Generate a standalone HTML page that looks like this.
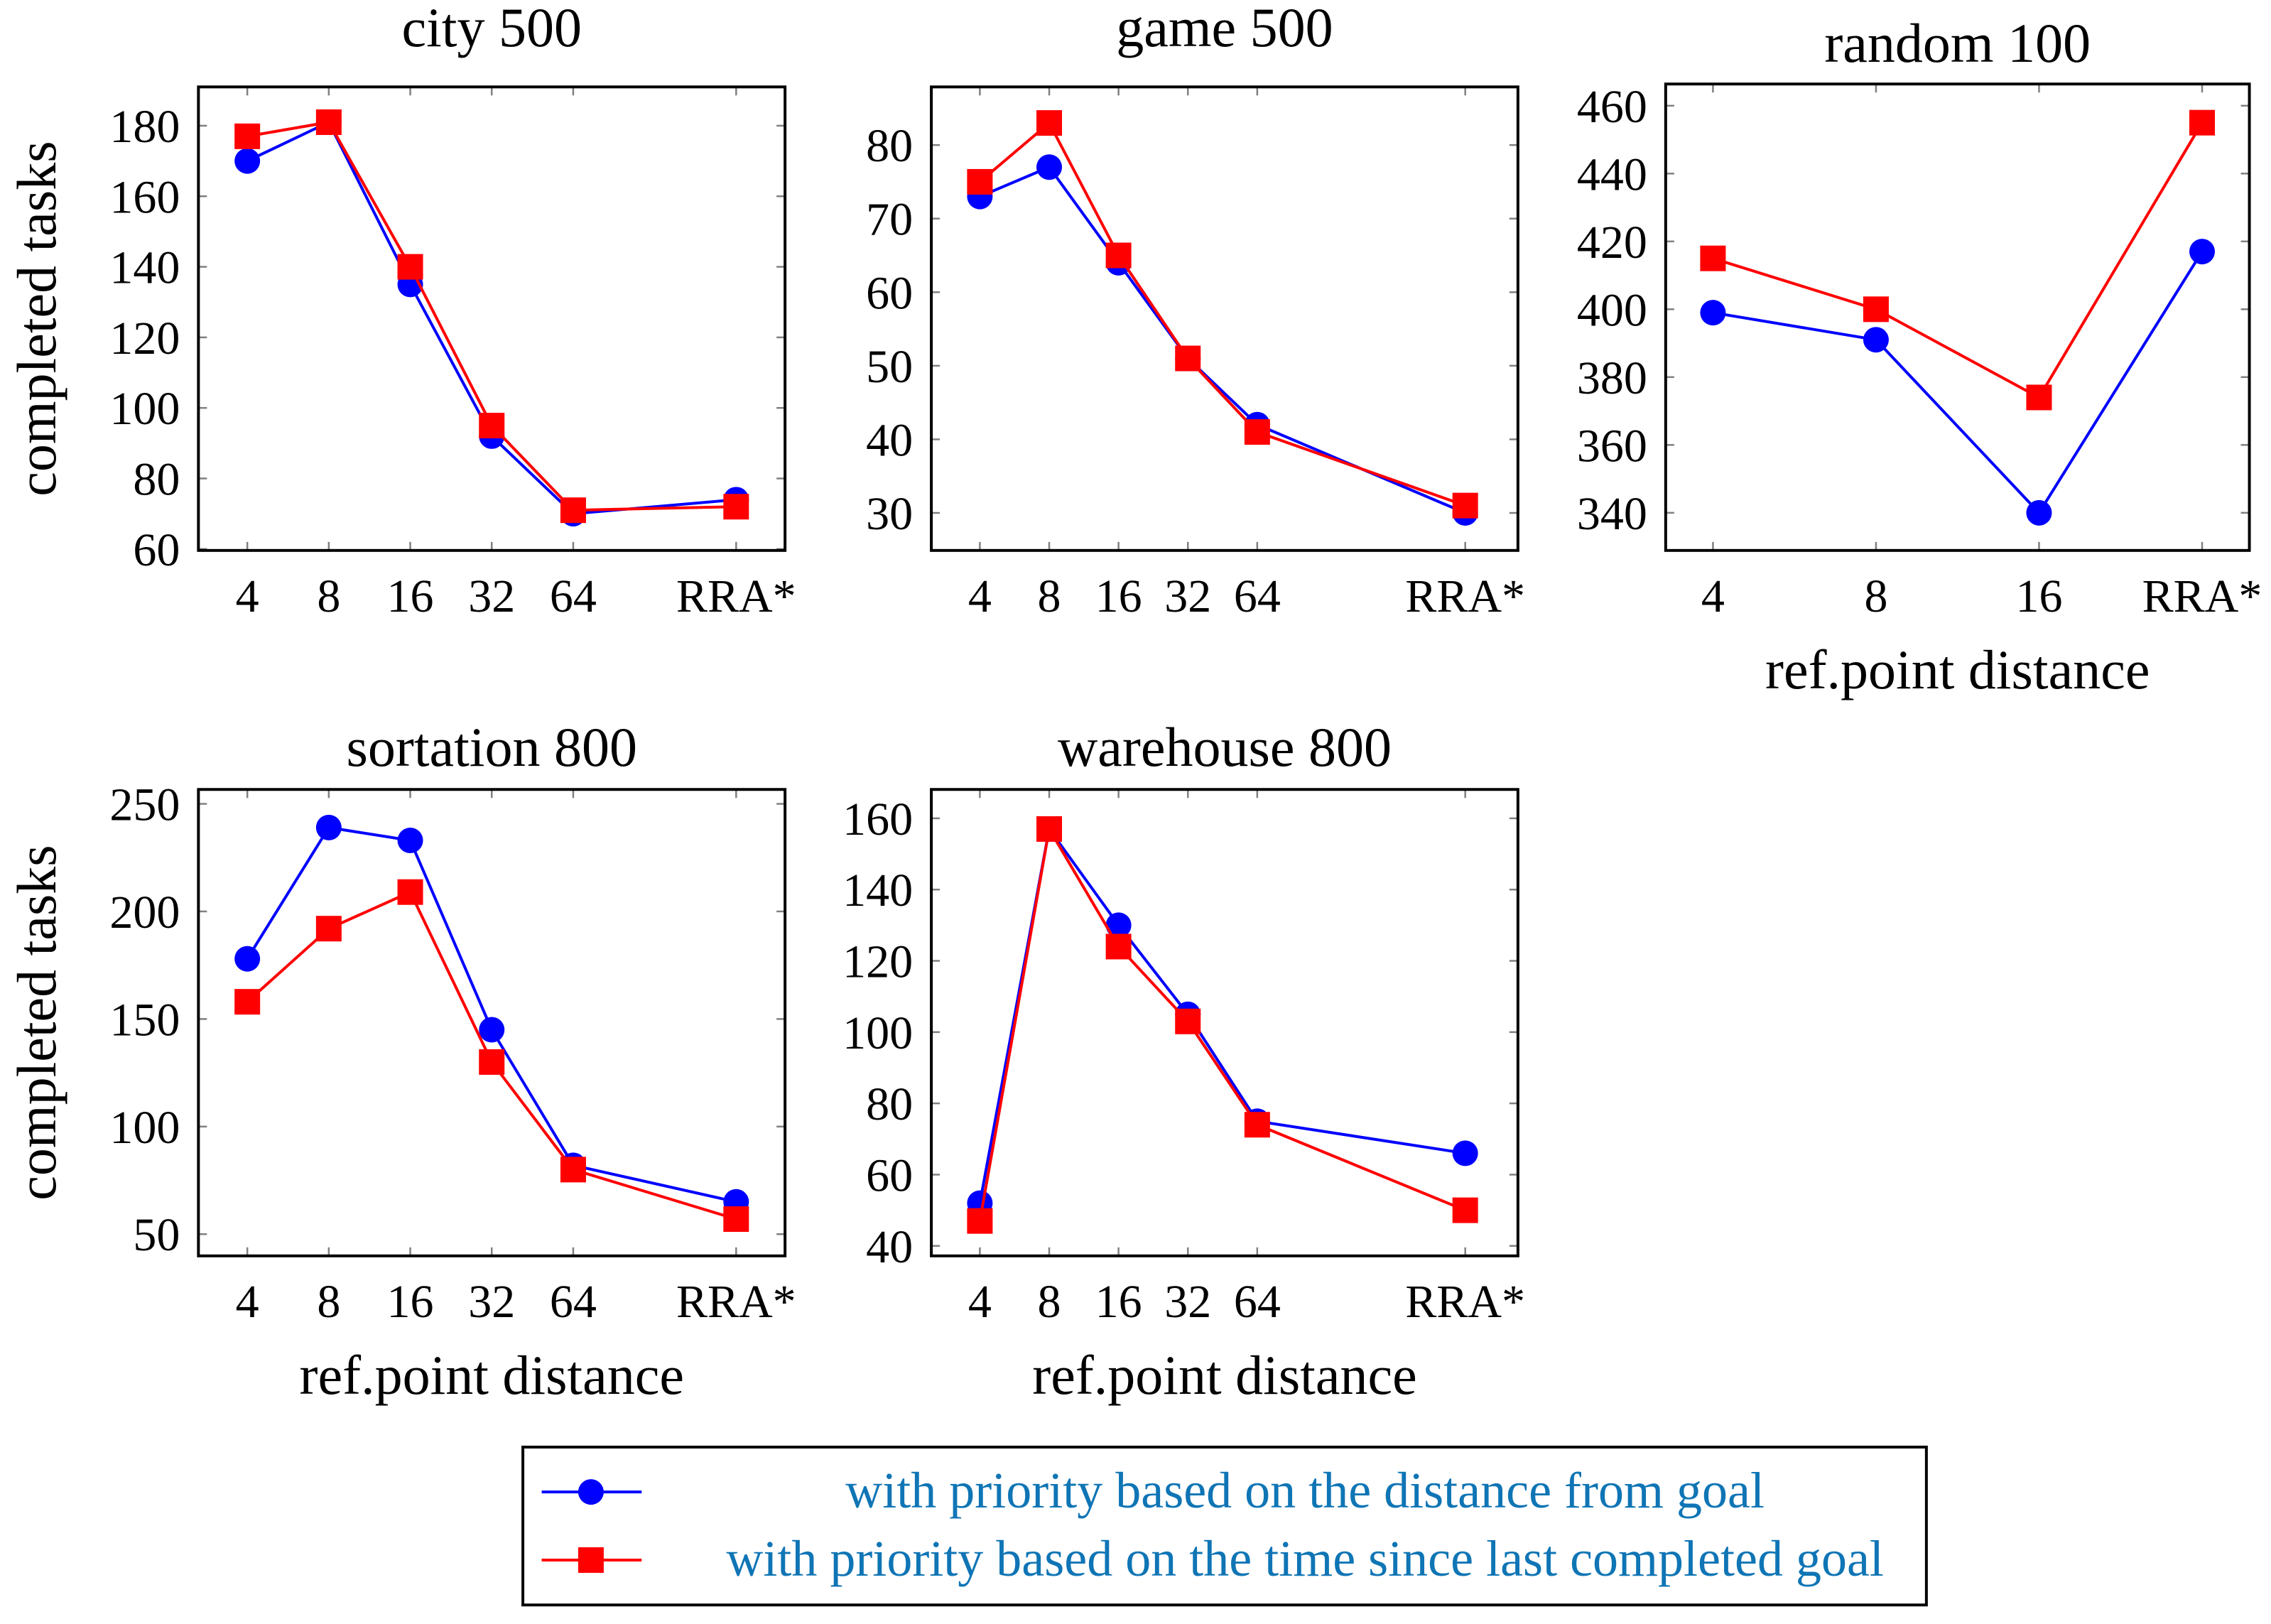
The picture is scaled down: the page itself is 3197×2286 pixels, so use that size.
<!DOCTYPE html>
<html><head><meta charset="utf-8"><style>
html,body{margin:0;padding:0;background:#fff}
svg{display:block}
text{font-family:"Liberation Serif",serif}
</style></head><body>
<svg id="fig" width="3197" height="2286" viewBox="0 0 3197 2286" xmlns="http://www.w3.org/2000/svg"></svg>
<script>
const S = 2.039;
// Chart data
const cityCats = ["4","8","16","32","64","RRA*"];
const cityIdx = [0,1,2,3,4,6];
const cityBlue = [170,181,135,92,70,74];
const cityRed = [177,181,140,95,71,72];
const cityTicks = [60,80,100,120,140,160,180];

const gameCats = ["4","8","16","32","64","RRA*"];
const gameIdx = [0,1,2,3,4,7];
const gameBlue = [73,77,64,51,42,30];
const gameRed = [75,83,65,51,41,31];
const gameTicks = [30,40,50,60,70,80];

const randCats = ["4","8","16","RRA*"];
const randIdx = [0,1,2,3];
const randBlue = [399,391,340,417];
const randRed = [415,400,374,455];
const randTicks = [340,360,380,400,420,440,460];

const sortCats = ["4","8","16","32","64","RRA*"];
const sortIdx = [0,1,2,3,4,6];
const sortBlue = [178,239,233,145,82,65];
const sortRed = [158,192,209,130,80,57];
const sortTicks = [50,100,150,200,250];

const wareCats = ["4","8","16","32","64","RRA*"];
const wareIdx = [0,1,2,3,4,7];
const wareBlue = [52,157,130,105,75,66];
const wareRed = [47,157,124,103,74,50];
const wareTicks = [40,60,80,100,120,140,160];

const svg = document.getElementById('fig');
const NS = "http://www.w3.org/2000/svg";
function mk(tag, attrs, parent){
  const e = document.createElementNS(NS, tag);
  for (const k in attrs) e.setAttribute(k, attrs[k]);
  (parent||svg).appendChild(e);
  return e;
}
const FS = 66;

function chart(cfg){
  const g = mk('g', {});
  
  
  const L = cfg.box[0]*S, R = cfg.box[1]*S, T = cfg.box[2]*S, B = cfg.box[3]*S;
  const xs = v => L + (v - cfg.xr[0])/(cfg.xr[1]-cfg.xr[0])*(R-L);
  const ys = v => B - (v - cfg.yr[0])/(cfg.yr[1]-cfg.yr[0])*(B-T);
  cfg.ticks.forEach(t=>{
    const y = ys(t);
    const tl = mk('line',{x1:L,x2:L+12,y1:y,y2:y,stroke:'#808080','stroke-width':2.5},g);
    
    
    mk('line',{x1:R-12,x2:R,y1:y,y2:y,stroke:'#808080','stroke-width':2.5},g);
    const lb = mk('text',{x:L-26,y:y+23,'text-anchor':'end','font-size':FS},g);
    lb.textContent = t;
    
    
  });
  cfg.idx.forEach((ix,i)=>{
    const x = xs(ix);
    mk('line',{x1:x,x2:x,y1:B-12,y2:B,stroke:'#808080','stroke-width':2.5},g);
    mk('line',{x1:x,x2:x,y1:T,y2:T+12,stroke:'#808080','stroke-width':2.5},g);
    const lb = mk('text',{x:x,y:B+86,'text-anchor':'middle','font-size':FS},g);
    lb.textContent = cfg.cats[i];
    
    
  });
  [[cfg.blue,'#0000ff','circle'],[cfg.red,'#ff0000','square']].forEach(([vals,col,m])=>{
    const pts = vals.map((v,i)=>[xs(cfg.idx[i]), ys(v)]);
    const pl = mk('polyline',{points:pts.map(p=>p.join(',')).join(' '),fill:'none',stroke:col,'stroke-width':4,'stroke-linejoin':'round'},g);
    
    
    pts.forEach(p=>{
      let e;
      if (m==='circle') e = mk('circle',{cx:p[0],cy:p[1],r:18,fill:col},g);
      else e = mk('rect',{x:p[0]-18,y:p[1]-18,width:36,height:36,fill:col},g);
      
      
    });
  });
  const fr = mk('rect',{x:L,y:T,width:R-L,height:B-T,fill:'none',stroke:'#000','stroke-width':4},g);
  
  
  const tt = mk('text',{x:(L+R)/2,y:cfg.titleY*S+24,'text-anchor':'middle','font-size':78},g);
  tt.textContent = cfg.title;
  
  
  if (cfg.ylabel){
    const cy = (T+B)/2, cx = 78;
    const yl = mk('text',{x:cx,y:cy,'text-anchor':'middle','font-size':78,transform:`rotate(-90 ${cx} ${cy})`},g);
    yl.textContent = 'completed tasks';
    
    
  }
  if (cfg.xlabel){
    const xl = mk('text',{x:(L+R)/2,y:B+194,'text-anchor':'middle','font-size':78},g);
    xl.textContent = 'ref.point distance';
    
    
  }
}

chart({name:'city-500-chart',title:'city 500',titleY:20,box:[137,542,60,380],xr:[-0.6,6.6],yr:[59.6,191],cats:cityCats,idx:cityIdx,blue:cityBlue,red:cityRed,ticks:cityTicks,ylabel:true});
chart({name:'game-500-chart',title:'game 500',titleY:20,box:[643,1048,60,380],xr:[-0.7,7.76],yr:[24.9,87.9],cats:gameCats,idx:gameIdx,blue:gameBlue,red:gameRed,ticks:gameTicks});
chart({name:'random-100-chart',title:'random 100',titleY:31,box:[1150,1553,58,380],xr:[-0.29,3.29],yr:[328.9,466.4],cats:randCats,idx:randIdx,blue:randBlue,red:randRed,ticks:randTicks,xlabel:true});
chart({name:'sortation-800-chart',title:'sortation 800',titleY:517,box:[137,542,545,867],xr:[-0.6,6.6],yr:[39.9,256.7],cats:sortCats,idx:sortIdx,blue:sortBlue,red:sortRed,ticks:sortTicks,ylabel:true,xlabel:true});
chart({name:'warehouse-800-chart',title:'warehouse 800',titleY:517,box:[643,1048,545,867],xr:[-0.7,7.76],yr:[37.2,168.1],cats:wareCats,idx:wareIdx,blue:wareBlue,red:wareRed,ticks:wareTicks,xlabel:true});

// Legend
const lg = mk('g',{});


mk('rect',{x:361*S,y:999*S,width:969*S,height:109*S,fill:'#fff',stroke:'#000','stroke-width':4},lg);
const entries = [['with priority based on the distance from goal','#0000ff','circle',1030],['with priority based on the time since last completed goal','#ff0000','square',1077]];
entries.forEach(([txt,col,m,yy])=>{
  const y = yy*S;
  const ln = mk('line',{x1:374*S,x2:443*S,y1:y,y2:y,stroke:col,'stroke-width':4},lg);
  
  
  let mkr;
  if (m==='circle') mkr = mk('circle',{cx:408*S,cy:y,r:18,fill:col},lg);
  else mkr = mk('rect',{x:408*S-18,y:y-18,width:36,height:36,fill:col},lg);
  
  
  const t = mk('text',{x:901*S,y:y+22,'text-anchor':'middle','font-size':72,fill:'#0f75b5'},lg);
  t.textContent = txt;
  
  
});
</script>
</body></html>
